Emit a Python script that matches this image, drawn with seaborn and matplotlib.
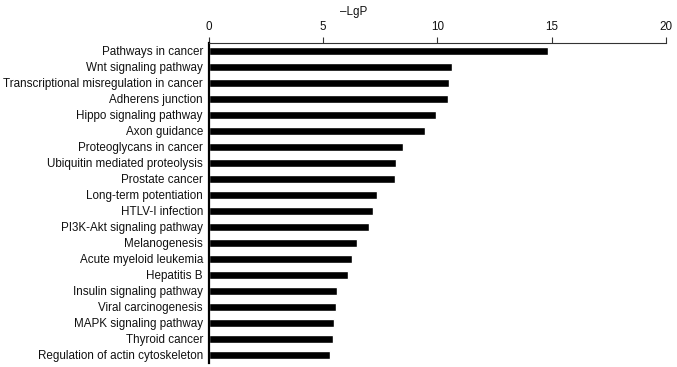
import matplotlib
matplotlib.use('Agg')
import matplotlib.pyplot as plt
import seaborn as sns
import pandas as pd

# pathway names, top to bottom
pathways = ['Pathways in cancer', 'Wnt signaling pathway',
            'Transcriptional misregulation in cancer', 'Adherens junction',
            'Hippo signaling pathway', 'Axon guidance', 'Proteoglycans in cancer',
            'Ubiquitin mediated proteolysis', 'Prostate cancer',
            'Long-term potentiation', 'HTLV-I infection',
            'PI3K-Akt signaling pathway', 'Melanogenesis',
            'Acute myeloid leukemia', 'Hepatitis B', 'Insulin signaling pathway',
            'Viral carcinogenesis', 'MAPK signaling pathway', 'Thyroid cancer',
            'Regulation of actin cytoskeleton']
# -LgP values
lgp = [14.82, 10.62, 10.51, 10.46, 9.93, 9.47, 8.51, 8.19, 8.15, 7.36,
       7.20, 7.02, 6.50, 6.28, 6.08, 5.62, 5.58, 5.47, 5.42, 5.33]
xticks = [0, 5, 10, 15, 20]

df = pd.DataFrame({'pathway': pathways, 'lgp': lgp})

sns.set_style('white')
plt.rcParams['font.family'] = ['Liberation Sans', 'DejaVu Sans']

fig = plt.figure(figsize=(6.77, 3.67), dpi=100)
ax = fig.add_axes([0.308, 0.011, 0.676, 0.872])

sns.barplot(x='lgp', y='pathway', data=df, color='black', width=0.5,
            saturation=1, ax=ax)

ax.set_xlim(0, 20)
ax.set_xticks(xticks)
ax.xaxis.tick_top()
ax.xaxis.set_label_position('top')
ax.set_xlabel('\u2013LgP', fontsize=8.35, color='#111111')
ax.xaxis.set_label_coords(0.316, 1.088)
ax.set_ylabel('')
ax.tick_params(axis='x', direction='out', length=4.5, width=0.8, color='#333333',
               labelsize=8.35, labelcolor='#111111', pad=2.5, top=True, bottom=False)
ax.tick_params(axis='y', length=0, labelsize=8.35, labelcolor='#111111', pad=4)

ax.spines['right'].set_visible(False)
ax.spines['bottom'].set_visible(False)
ax.spines['top'].set_linewidth(0.8)
ax.spines['top'].set_color('#333333')
ax.spines['left'].set_linewidth(1.6)
ax.spines['left'].set_color('black')

plt.savefig('out.png', dpi=100)
